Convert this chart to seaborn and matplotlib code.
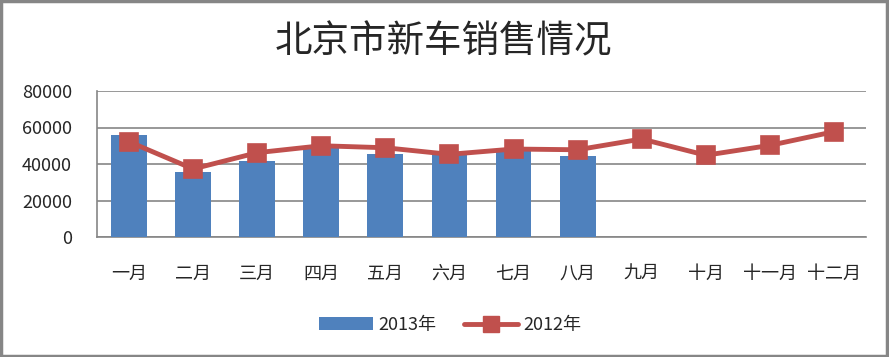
import matplotlib
matplotlib.use("Agg")
import matplotlib.pyplot as plt
import seaborn as sns
import pandas as pd
from matplotlib.patches import Rectangle
from matplotlib.lines import Line2D
from matplotlib.patches import Patch

months = ["一月", "二月", "三月", "四月", "五月", "六月", "七月", "八月", "九月", "十月", "十一月", "十二月"]
sales_2013 = [56000, 35600, 41600, 50000, 45500, 44900, 47700, 44400]
sales_2012 = [52200, 37300, 46200, 50000, 48900, 45300, 48200, 47800, 53700, 44800, 50200, 57700]
title = "北京市新车销售情况"
yticks = [0, 20000, 40000, 60000, 80000]

sns.set_theme(style="white")
plt.rcParams['font.family'] = ['Noto Sans CJK SC', 'DejaVu Sans']

fig = plt.figure(figsize=(8.89, 3.57), dpi=100)
ax = fig.add_axes([97/889, 1-237/357, (866-97)/889, (237-91)/357])

df13 = pd.DataFrame({"month": months[:len(sales_2013)], "sales": sales_2013})
df12 = pd.DataFrame({"month": months, "sales": sales_2012})

blue = "#4F81BD"
red = "#C0504D"
grid = "#868686"

sns.barplot(data=df13, x="month", y="sales", order=months, color=blue,
            width=0.56, saturation=1, ax=ax, zorder=2, errorbar=None,
            edgecolor="none", linewidth=0)
sns.pointplot(data=df12, x="month", y="sales", order=months, color=red,
              markers="s", markersize=11, linewidth=3.5, ax=ax, errorbar=None)
for ln in ax.lines:
    ln.set_markeredgecolor(red)
    ln.set_zorder(3)

ax.set_xlim(-0.5, 11.5)
ax.set_ylim(0, 80000)
ax.set_yticks(yticks)
ax.set_yticklabels([str(v) for v in yticks], fontsize=13)
ax.tick_params(axis='x', length=0, pad=20, labelsize=13)
ax.tick_params(axis='y', length=0, pad=18)
ax.set_xlabel("")
ax.set_ylabel("")
ax.yaxis.grid(True, color=grid, linewidth=1.2)
ax.set_axisbelow(True)
for s in ["top", "right"]:
    ax.spines[s].set_visible(False)
for s in ["left", "bottom"]:
    ax.spines[s].set_color(grid)
    ax.spines[s].set_linewidth(1.2)
    ax.spines[s].set_zorder(1)

fig.text(443/889, 1-42/357, title, ha="center", va="center", fontsize=27)

handles = [Patch(facecolor=blue, edgecolor='none'),
           Line2D([0], [0], color=red, lw=3.5, marker="s", markersize=11)]
fig.legend(handles, ["2013年", "2012年"], loc="center", bbox_to_anchor=(450/889, 1-325/357),
           ncol=2, frameon=False, fontsize=13, handlelength=3, handletextpad=0.3,
           columnspacing=1.5)

fig.patches.append(Rectangle((1/889, 1/357), 886/889, 355/357, transform=fig.transFigure,
                             fill=False, edgecolor=grid, linewidth=2.5))

fig.savefig("out.png", dpi=100)
